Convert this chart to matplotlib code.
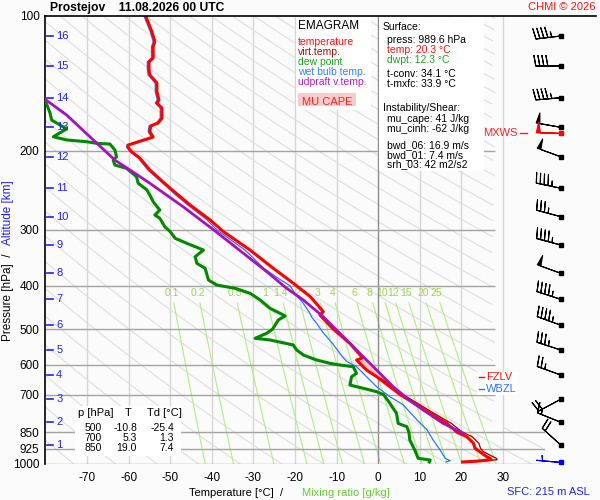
import numpy as np
import matplotlib.pyplot as plt
from matplotlib.patches import Rectangle
from matplotlib.lines import Line2D
from matplotlib.ticker import NullLocator, NullFormatter

plt.rcParams['font.family'] = ['Liberation Sans', 'DejaVu Sans']

# ---- sounding values (surface -> top), p [hPa], T [degC]
temp_p = [989.6, 985, 978, 971, 963, 940, 922.6, 899, 869, 850, 811.6, 770.6, 700, 672, 638,
          617, 586, 580.8, 576, 538, 500, 465, 457.1, 423.3, 395, 365.8, 333, 303, 285.3,
          264.2, 242.4, 220.7, 207.5, 200.9, 196.1, 194.1, 186.3, 181.3, 176, 173.3, 169,
          160.5, 156.4, 153.9, 147.8, 141.1, 135.4, 132, 126.5, 124.1, 117.1, 114.1, 108.4, 100]
temp_t = [20.3, 24.0, 27.2, 26.9, 26.1, 24.5, 23.3, 22.9, 21.3, 19.0, 16.5, 12.5, 5.3, 2.8, -0.4,
          -2.8, -5.2, -4.0, -4.0, -6.8, -10.8, -14.0, -13.2, -16.3, -20.4, -25.2, -30.8, -37.2, -40.4,
          -45.2, -50.0, -54.9, -57.3, -59.3, -60.2, -60.1, -54.1, -54.9, -54.7, -52.9, -52.0,
          -52.0, -53.2, -52.7, -53.2, -53.2, -54.9, -55.1, -55.1, -54.1, -54.1, -53.7, -54.4, -55.9]

virt_p = [989.6, 985, 978, 971, 963, 938.6, 922.6, 899, 869, 850, 811.6, 770.6, 700, 672, 638,
          617, 586, 580.8, 576, 538, 500, 465, 457.1, 423.3, 395]
virt_t = [21.5, 25.5, 28.6, 28.4, 27.6, 25.3, 24.6, 24.2, 22.6, 20.3, 17.6, 13.4, 6.0, 3.4, 0.1,
          -2.4, -4.9, -3.7, -3.7, -6.6, -10.6, -13.9, -13.1, -16.2, -20.3]

dewp_p = [989.6, 979.7, 971.2, 930.7, 884.1, 850, 825.7, 811.6, 770.4, 731.8, 700, 689.6, 677.6,
          666.4, 638.5, 627.4, 606.5, 601.2, 596, 586, 571.1, 556.6, 542.5, 528.7, 524.1, 510.8,
          500, 477, 467.3, 460.9, 449.2, 430.4, 415.9, 405.4, 398.6, 388.5, 365.8, 356.5, 344.5,
          333, 321.7, 313.5, 303, 295.3, 282.8, 278.1, 271.1, 259.7, 250.9, 244.5, 236.2, 228.4,
          218.8, 215.1, 209.7, 206.2, 199.1, 193.1, 192.4, 190.8, 189.1, 186, 178.7, 170.7,
          164.6, 153.9, 150]
dewp_t = [12.3, 12.5, 9.6, 8.8, 7.6, 7.4, 6.9, 4.8, 4.4, 2.8, 1.3, -0.4, -3.6,
          -6.8, -6.4, -5.2, -6.0, -9.2, -11.6, -14.8, -18.0, -19.6, -20.4, -26.0, -29.6, -26.8,
          -25.4, -24.0, -22.4, -23.6, -26.0, -28.4, -30.8, -34.4, -38.8, -40.8, -41.6, -43.6, -44.0,
          -42.0, -46.0, -48.8, -50.0, -51.3, -52.5, -53.7, -52.5, -54.1, -54.9, -55.6, -57.7, -58.1,
          -60.5, -63.3, -63.7, -62.9, -63.3, -64.5, -67.7, -70.1, -74.9, -78.1, -74.9, -78.5,
          -78.9, -80.1, -82.0]

wetb_p = [989.6, 983, 971, 931, 884, 838, 797, 737.5, 707.5, 672, 638.5, 606.5, 590, 576, 560,
          538, 507, 485, 470, 461, 438, 416, 400, 382, 365, 333, 300, 285, 264, 250, 242, 221,
          207.5, 201, 196, 194, 186.3, 181.3, 176, 173.3, 169, 160.5, 156.4, 153.9, 147.8,
          141.1, 135.4, 132, 126.5, 124.1, 117.1, 114.1, 108.4, 100]
wetb_t = [16.3, 17.3, 16.1, 14.9, 13.2, 11.7, 9.3, 6.0, 2.8, -0.4, -2.8, -5.2, -7.6, -8.6, -9.6,
          -11.0, -13.4, -14.8, -16.0, -16.4, -18.0, -20.0, -21.2, -24.6, -27.6, -32.0, -38.8, -41.2,
          -45.8, -48.9, -50.5, -55.3, -57.7, -59.6, -60.5, -60.4, -54.5, -55.3, -55.1, -53.3, -52.4,
          -52.4, -53.6, -53.1, -53.6, -53.6, -55.3, -55.5, -55.5, -54.5, -54.5, -54.1, -54.8, -56.3]

parc_p = [854.3, 811.6, 757.6, 713.3, 672, 627.4, 596, 519.8, 469.1, 430.4, 405.4, 372.2, 338.6,
          300, 266.5, 236.2, 209.7, 189.1, 166.3, 153.4, 150]
parc_t = [20.5, 15.6, 10.8, 6.9, 3.6, 0.4, -2.0, -8.4, -13.2, -18.0, -22.0, -26.8, -32.4,
          -39.6, -46.9, -54.9, -63.3, -68.5, -74.9, -80.1, -81.2]

# winds at the km levels (sfc, 1..16 km), direction [deg], speed [kt]
wind_p = [989.6, 907, 807, 717, 633, 556.6, 490, 429, 375.3, 324.5, 280.5, 242.4, 206.2,
          177.2, 152.2, 129.3, 110.8]
wind_dir = [275, 312, 292, 242, 290, 288, 290, 288, 290, 285, 285, 282, 290, 280, 265, 270, 263]
wind_spd = [5, 20, 15, 20, 25, 35, 45, 45, 50, 45, 35, 45, 50, 50, 45, 40, 45]
mxws_p, mxws_dir, mxws_spd = 182.2, 272, 50

press_ticks = [100, 200, 300, 400, 500, 600, 700, 850, 925, 1000]
temp_ticks = list(range(-70, 31, 10))
mix_ratio = [0.1, 0.2, 0.5, 1, 1.4, 2, 3, 4, 6, 8, 10, 12, 15, 20, 25]
mix_labels = ['0.1', '0.2', '0.5', '1', '1.4', '2', '3', '4', '6', '8', '10', '12', '15', '20', '25']

tab_p = ['500', '700', '850']
tab_t = ['-10.8', '5.3', '19.0']
tab_td = ['-25.4', '1.3', '7.4']

W, H = 600, 500
def fx(x):
    return x / W
def fy(y):
    return 1 - y / H

fig = plt.figure(figsize=(6, 5), dpi=100, facecolor='#fbfbfb')
ax = fig.add_axes([fx(45), fy(464), 500 / W, 448 / H])
ax.set_facecolor('#fbfbfb')
ax.set_yscale('log')
ax.set_ylim(1000, 100)
ax.set_xlim(-80.1, 40.1)

ax.yaxis.set_minor_locator(NullLocator())
ax.yaxis.set_minor_formatter(NullFormatter())
ax.set_yticks(press_ticks)
ax.set_yticklabels([str(p) for p in press_ticks])
ax.set_xticks(temp_ticks)
ax.set_xticklabels([str(t) for t in temp_ticks])
ax.tick_params(axis='y', length=0, pad=4, labelsize=8.5)
ax.tick_params(axis='x', length=0, pad=6, labelsize=8.5)
for s in ['top', 'right', 'bottom']:
    ax.spines[s].set_visible(False)
ax.spines['left'].set_linewidth(1.2)
fig.add_artist(Line2D([fx(45), fx(596)], [fy(16), fy(16)], color='black', lw=1.2))

# isotherms
ax.vlines([t for t in temp_ticks if t != 0], 100, 1000, color='#d6d6d6', lw=1, zorder=1)
ax.vlines([0], 100, 1000, color='#8c8c8c', lw=1, zorder=1.5)

# isobars
for p in press_ticks[1:]:
    xmax = 28.1 if p < 800 else 40.1
    ax.hlines(p, -80.1, xmax, color='#a3a3a3', lw=1, zorder=1.5)

# dry adiabats
pp = np.logspace(2, 3, 200)
for theta in range(200, 620, 10):
    tt = theta * (pp / 1000.0) ** 0.286 - 273.15
    lim = np.where(pp < 830, 28.1, 40.1)
    tt = np.where(tt <= lim, tt, np.nan)
    ax.plot(tt, pp, color='#dedede', lw=0.8, zorder=1.2)

# mixing ratio lines
pm = np.linspace(437, 1000, 50)
for w, lab in zip(mix_ratio, mix_labels):
    e = w * pm / (622.0 + w)
    le = np.log(e / 6.112)
    tm = 243.5 * le / (17.67 - le)
    ax.plot(tm, pm, color='#aef07f', lw=0.8, zorder=1.3)
    e0 = w * 415 / (622.0 + w)
    l0 = np.log(e0 / 6.112)
    ax.text(243.5 * l0 / (17.67 - l0), 415, lab, color='#9fd64a', fontsize=7.5,
            ha='center', va='center', zorder=1.4)

# profiles
ax.plot(virt_t, virt_p, color='#990000', lw=0.9, zorder=3)
ax.plot(wetb_t, wetb_p, color='#2e74ff', lw=0.9, zorder=3.5)
ax.plot(temp_t, temp_p, color='#ff0000', lw=2.2, zorder=4)
ax.plot(dewp_t, dewp_p, color='#008800', lw=2.2, zorder=4)
ax.plot(parc_t, parc_p, color='#a512b8', lw=2.0, zorder=5)

# MU CAPE area near the 590 hPa kink
pc = np.linspace(570, 640, 60)
tp = np.interp(pc, parc_p[::-1], parc_t[::-1])
te = np.interp(pc, temp_p[::-1], temp_t[::-1])
ax.fill_betweenx(pc, te, tp, where=tp > te, color='#ffc8c8', zorder=3.8, lw=0)

# altitude ticks (km)
for km, p in enumerate(wind_p[1:], start=1):
    ax.plot([-79.6, -78.2], [p, p], color='#2020ff', lw=1.2, zorder=6)
    ax.text(-77.4, p, str(km), color='#2020ff', fontsize=8, va='center', ha='left', zorder=6)

# wind barbs
bx = 43.9
blen = 6.0
bsize = dict(spacing=0.16, height=0.42, width=0.15)
rad = np.deg2rad(wind_dir)
u = -np.array(wind_spd) * np.sin(rad)
v = -np.array(wind_spd) * np.cos(rad)
ax.barbs(np.full(len(wind_p) - 1, bx), wind_p[1:], u[1:], v[1:], length=blen, pivot='tip',
         color='black', lw=0.8, clip_on=False, zorder=6, sizes=bsize)
ax.plot(np.full(len(wind_p) - 1, bx), wind_p[1:], 's', color='black', ms=2.4, clip_on=False, zorder=6)
ax.barbs([bx], [wind_p[0]], [u[0]], [v[0]], length=blen, pivot='tip', color='#0000ee', lw=0.8,
         clip_on=False, zorder=6, sizes=bsize)
ax.plot([bx], [wind_p[0]], 's', color='#0000ee', ms=2.4, clip_on=False, zorder=6)
mr = np.deg2rad(mxws_dir)
ax.barbs([bx], [mxws_p], [-mxws_spd * np.sin(mr)], [-mxws_spd * np.cos(mr)], length=blen,
         pivot='tip', color='#ff0000', lw=1.0, clip_on=False, zorder=6, sizes=bsize)
ax.plot([bx], [mxws_p], 's', color='#ff0000', ms=2.4, clip_on=False, zorder=6)
fig.text(fx(518), fy(133), 'MXWS', color='#ff2020', fontsize=8, ha='right', va='center')
fig.add_artist(Line2D([fx(520), fx(527)], [fy(132.5), fy(132.5)], color='#ff2020', lw=1))

# legend box
fig.add_artist(Rectangle((fx(296), fy(110)), 75 / W, 93 / H, facecolor='white', edgecolor='none', zorder=2))
fig.text(fx(298), fy(26), 'EMAGRAM', fontsize=8.5, va='center', zorder=3)
leg = [('temperature', '#ff1010'), ('virt.temp.', '#a01010'), ('dew point', '#20a020'),
       ('wet bulb temp.', '#3a7cff'), ('udpraft v.temp.', '#b020c8')]
for i, (name, col) in enumerate(leg):
    fig.text(fx(298), fy(42 + 10 * i), name, color=col, fontsize=7.5, va='center', zorder=3)
fig.add_artist(Rectangle((fx(298), fy(106)), 58 / W, 13 / H, facecolor='#f8cccc', edgecolor='none', zorder=2.5))
fig.text(fx(327), fy(101.5), 'MU CAPE', color='#ff2020', fontsize=8, ha='center', va='center', zorder=3)

# surface box
fig.add_artist(Rectangle((fx(379), fy(171)), 105 / W, 154 / H, facecolor='white', edgecolor='none', zorder=2))
info = [('Surface:', 'black', 383, 27), ('press: 989.6 hPa', 'black', 387, 40),
        ('temp: 20.3 \u00b0C', '#ff1010', 387, 50), ('dwpt: 12.3 \u00b0C', '#20a020', 387, 60),
        ('t-conv: 34.1 \u00b0C', 'black', 387, 74), ('t-mxfc: 33.9 \u00b0C', 'black', 387, 84),
        ('Instability/Shear:', 'black', 383, 108), ('mu_cape: 41 J/kg', 'black', 387, 119),
        ('mu_cinh: -62 J/kg', 'black', 387, 129), ('bwd_06: 16.9 m/s', 'black', 387, 145),
        ('bwd_01: 7.4 m/s', 'black', 387, 155), ('srh_03: 42 m2/s2', 'black', 387, 164)]
for s, col, x, y in info:
    fig.text(fx(x), fy(y), s, color=col, fontsize=7.5, va='center', zorder=3)

# level table
fig.add_artist(Rectangle((fx(75), fy(456)), 106 / W, 50 / H, facecolor='white', edgecolor='none', zorder=2))
fig.text(fx(78), fy(413), 'p [hPa]', fontsize=8, va='center', zorder=3)
fig.text(fx(125), fy(413), 'T', fontsize=8, va='center', zorder=3)
fig.text(fx(147), fy(413), 'Td [\u00b0C]', fontsize=8, va='center', zorder=3)
for i in range(3):
    y = 428 + 10 * i
    fig.text(fx(102), fy(y), tab_p[i], fontsize=7.5, ha='right', va='center', zorder=3)
    fig.text(fx(137), fy(y), tab_t[i], fontsize=7.5, ha='right', va='center', zorder=3)
    fig.text(fx(174), fy(y), tab_td[i], fontsize=7.5, ha='right', va='center', zorder=3)

# freezing / wet bulb zero labels
fig.add_artist(Rectangle((fx(477), fy(395)), 40 / W, 23 / H, facecolor='white', edgecolor='none', zorder=2))
fig.add_artist(Line2D([fx(479), fx(484)], [fy(377), fy(377)], color='#ff0000', lw=1, zorder=3))
fig.text(fx(486), fy(377), 'FZLV', color='#ff1010', fontsize=8, va='center', zorder=3)
fig.add_artist(Line2D([fx(479), fx(484)], [fy(389), fy(389)], color='#2e74ff', lw=1, zorder=3))
fig.text(fx(486), fy(389), 'WBZL', color='#2e74ff', fontsize=8, va='center', zorder=3)

# titles and axis labels
fig.text(fx(50), fy(8), 'Prostejov    11.08.2026 00 UTC', fontsize=8.7, fontweight='bold', va='center')
fig.text(fx(596), fy(7), 'CHMI \u00a9 2026', color='#ff1010', fontsize=8, ha='right', va='center')
fig.text(fx(289), fy(493), 'Temperature [\u00b0C]  /  ', fontsize=8, ha='right', va='center')
fig.text(fx(302), fy(493), 'Mixing ratio [g/kg]', color='#66cc33', fontsize=8, ha='left', va='center')
fig.text(fx(590), fy(492), 'SFC: 215 m ASL', color='#2020ee', fontsize=8, ha='right', va='center')
fig.text(fx(8), fy(247), 'Pressure [hPa]  /  ', fontsize=8.5, rotation=90, ha='center', va='top')
fig.text(fx(8), fy(245), 'Altitude [km]', color='#2020ee', fontsize=8.5, rotation=90, ha='center', va='bottom')

fig.savefig('out.png', dpi=100, facecolor=fig.get_facecolor())
